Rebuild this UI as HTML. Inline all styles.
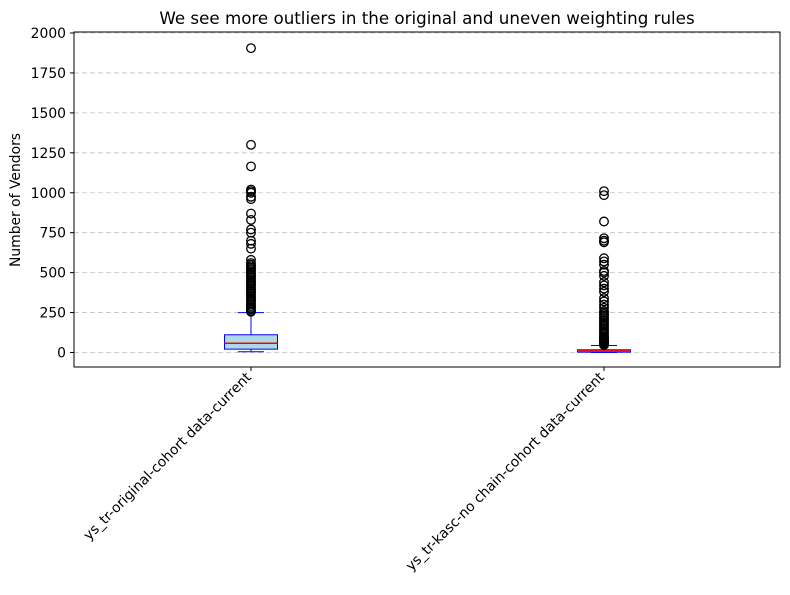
<!DOCTYPE html>
<html><head><meta charset="utf-8"><style>
body{margin:0;background:#fff;font-family:"Liberation Sans","DejaVu Sans",sans-serif;}
</style></head><body>
<svg width="790" height="590" xmlns="http://www.w3.org/2000/svg" font-family="DejaVu Sans, Liberation Sans, sans-serif">
<rect width="790" height="590" fill="#fff"/>
<g id="grid"></g>
<g id="plot"></g>
<rect x="74" y="32" width="706" height="335" fill="none" stroke="#000" stroke-width="1"/>
<g id="axes"></g>
<text x="427" y="24" text-anchor="middle" font-size="16.7">We see more outliers in the original and uneven weighting rules</text>
<text transform="translate(20,200) rotate(-90)" text-anchor="middle" font-size="13.9">Number of Vendors</text>
</svg>
<script>
const categories=["ys_tr-original-cohort data-current","ys_tr-kasc-no chain-cohort data-current"];
const whiskLow=[5,0];
const q1=[21,2];
const medians=[58,10];
const q3=[111,17];
const whiskHigh=[250,44];
const outliers1=[1905,1300,1165,1020,1010,1000,975,960,870,830,770,750,700,680,650,580,560,550,540,530,520,510,500,490,480,470,460,450,440,430,420,410,400,390,380,370,360,350,340,330,320,310,300,290,280,270,260,255];
const outliers2=[1010,985,820,715,700,690,590,570,550,510,500,480,440,420,400,380,340,320,300,280,260,250,240,230,220,210,200,190,180,170,160,150,140,130,120,110,100,95,90,85,80,75,70,65,60,55,50,47];
const yTicks=[0,250,500,750,1000,1250,1500,1750,2000];
const NS="http://www.w3.org/2000/svg";
const y=v=>352.5-(v/2000)*319.5;
const x=i=>251+i*353;
function mk(tag,attrs,parent){const e=document.createElementNS(NS,tag);for(const k in attrs)e.setAttribute(k,attrs[k]);parent.appendChild(e);return e;}
const grid=document.getElementById('grid'),plot=document.getElementById('plot'),axes=document.getElementById('axes');
yTicks.forEach(t=>{
 const g=mk('line',{x1:74,x2:780,y1:y(t),y2:y(t),stroke:'#c0c0c0','stroke-dasharray':'5,3','stroke-width':0.8},grid);
 
 
 const tk=mk('line',{x1:70,x2:74,y1:y(t),y2:y(t),stroke:'#000'},axes);
 
 
 const tx=mk('text',{x:66,y:y(t)+5,'text-anchor':'end','font-size':13.9},axes);
 tx.textContent=t;
 
 
});
const outs=[outliers1,outliers2];
categories.forEach((c,i)=>{
 const cx=x(i),hw=26.5,cw=13;
 const g=mk('g',{},plot);
 
 
 mk('line',{x1:cx,x2:cx,y1:y(q3[i]),y2:y(whiskHigh[i]),stroke:'#00f'},g);
 mk('line',{x1:cx,x2:cx,y1:y(q1[i]),y2:y(whiskLow[i]),stroke:'#00f'},g);
 mk('line',{x1:cx-cw,x2:cx+cw,y1:y(whiskHigh[i]),y2:y(whiskHigh[i]),stroke:'#00f'},g);
 mk('line',{x1:cx-cw,x2:cx+cw,y1:y(whiskLow[i]),y2:y(whiskLow[i]),stroke:'#00f'},g);
 mk('rect',{x:cx-hw,y:y(q3[i]),width:2*hw,height:Math.max(1.5,y(q1[i])-y(q3[i])),fill:'#add8e6',stroke:'#00f'},g);
 mk('line',{x1:cx-hw,x2:cx+hw,y1:y(medians[i]),y2:y(medians[i]),stroke:'#f00','stroke-width':1.5},g);
 outs[i].forEach(v=>{
  const o=mk('circle',{cx:cx,cy:y(v),r:4.3,fill:'none',stroke:'#000','stroke-width':1.3},g);
  
  
 });
 const tk=mk('line',{x1:cx,x2:cx,y1:367,y2:371,stroke:'#000'},axes);
 
 
 const tx=mk('text',{x:0,y:0,'text-anchor':'end','font-size':13.9,transform:`translate(${cx+1},${378}) rotate(-45)`},axes);
 tx.textContent=c;
 
 
});
</script>
</body></html>
